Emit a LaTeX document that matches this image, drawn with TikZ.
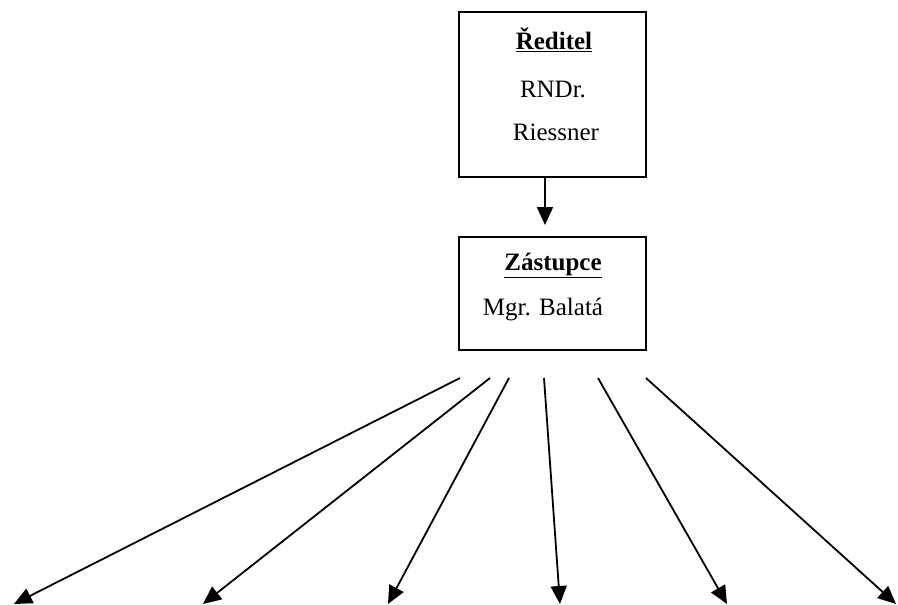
\documentclass[tikz,border=0pt]{standalone}
\usepackage{fontspec}
\setmainfont{Liberation Serif}
\usetikzlibrary{arrows.meta}
\begin{document}
\begin{tikzpicture}[x=1pt,y=-1pt,
  box/.style={draw,line width=1.8pt},
  lbl/.style={inner sep=0pt,font=\fontsize{25}{29}\selectfont},
  conn/.style={line width=1.8pt,-{Triangle[width=16pt,length=18pt]}}]
\useasboundingbox (0,0) rectangle (898,605);
\draw[box] (459,12) rectangle (646,177);
\draw[box] (459,237) rectangle (646,350);
\node[lbl] (t1) at (554,40) {\textbf{\underline{Ředitel}}};
\node[lbl] (t2) at (553,89) {RNDr.};
\node[lbl] (t3) at (556,132) {Riessner};
\node[lbl] (t4) at (553,265) {\textbf{\underline{Zástupce}}};
\node[lbl] (t5) at (543,310) {Mgr. Balatá};
\coordinate (a0) at (545,177);
\coordinate (a1) at (545,225);
\draw[conn] (a0) -- (a1);
\coordinate (s1) at (460,378); \coordinate (e1) at (14,604);
\coordinate (s2) at (490,378); \coordinate (e2) at (203,604);
\coordinate (s3) at (509,378); \coordinate (e3) at (388,604);
\coordinate (s4) at (544,378); \coordinate (e4) at (560,604);
\coordinate (s5) at (598,378); \coordinate (e5) at (727,604);
\coordinate (s6) at (646,378); \coordinate (e6) at (896,604);
\foreach \i in {1,...,6} \draw[conn] (s\i) -- (e\i);
\end{tikzpicture}
\end{document}
